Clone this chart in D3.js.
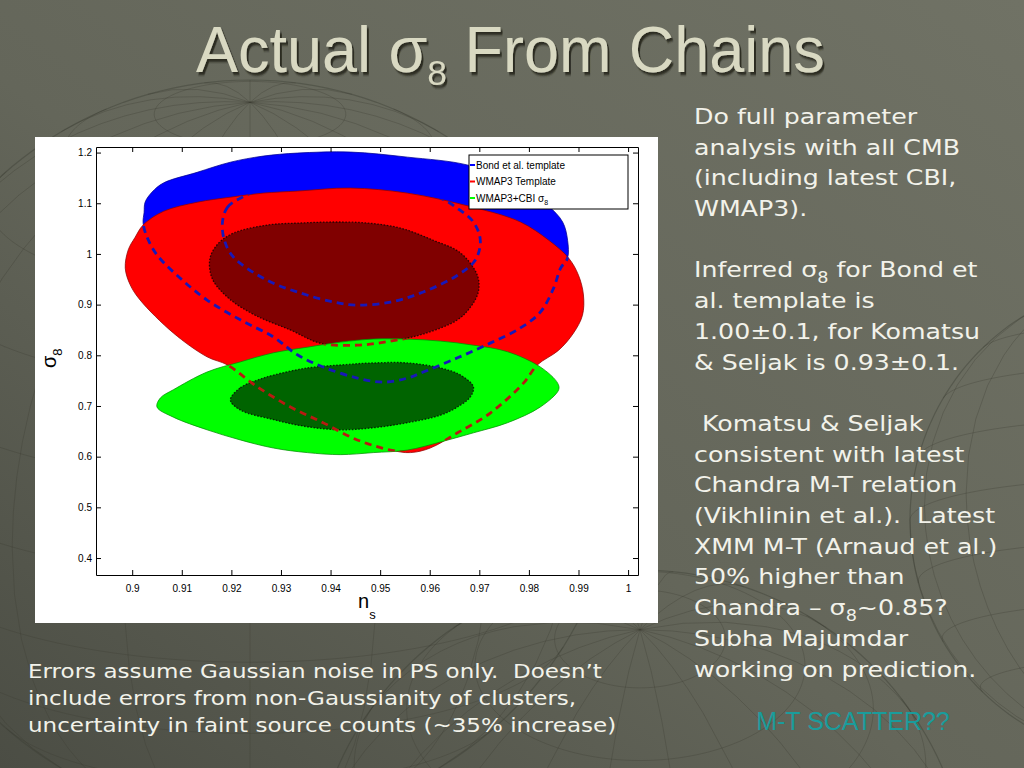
<!DOCTYPE html>
<html>
<head>
<meta charset="utf-8">
<script src="https://cdn.jsdelivr.net/npm/d3@7"></script>
<style>
  body { margin: 0; overflow: hidden; background: #5e6055; }
  svg { display: block; }
</style>
</head>
<body>
<script>
// ---- data: contour outlines, as [n_s, sigma_8] ----
const bondOuter = [
  [0.9022, 1.061], [0.9024, 1.082], [0.9026, 1.102], [0.9040, 1.122], [0.9063, 1.140],
  [0.9131, 1.161], [0.9198, 1.181], [0.9264, 1.193], [0.9333, 1.199], [0.9440, 1.201],
  [0.9555, 1.191], [0.9678, 1.175], [0.9783, 1.136], [0.9838, 1.096], [0.9868, 1.063],
  [0.9878, 1.027], [0.9878, 0.992], [0.9864, 0.972], [0.9850, 0.933], [0.9823, 0.885],
  [0.9783, 0.854], [0.9722, 0.824], [0.9656, 0.795], [0.9587, 0.767], [0.9555, 0.755],
  [0.9507, 0.747], [0.9454, 0.755], [0.9385, 0.777], [0.9333, 0.801], [0.9285, 0.836],
  [0.9218, 0.870], [0.9151, 0.909], [0.9097, 0.952], [0.9050, 0.998], [0.9030, 1.033]
];
const bondInner = [
  [0.9182, 1.063], [0.9192, 1.092], [0.9218, 1.110], [0.9252, 1.124], [0.9339, 1.134],
  [0.9440, 1.136], [0.9541, 1.130], [0.9622, 1.110], [0.9656, 1.090], [0.9688, 1.063],
  [0.9702, 1.027], [0.9692, 0.988], [0.9656, 0.958], [0.9587, 0.925], [0.9521, 0.905],
  [0.9454, 0.899], [0.9406, 0.905], [0.9339, 0.923], [0.9272, 0.948], [0.9204, 0.994],
  [0.9186, 1.027]
];
const wmapOuter = [
  [0.8986, 0.972], [0.8992, 1.008], [0.9006, 1.033], [0.9022, 1.057], [0.9063, 1.084],
  [0.9131, 1.102], [0.9198, 1.112], [0.9264, 1.120], [0.9333, 1.124], [0.9440, 1.130],
  [0.9555, 1.120], [0.9688, 1.092], [0.9783, 1.063], [0.9840, 1.027], [0.9880, 0.992],
  [0.9900, 0.958], [0.9910, 0.919], [0.9908, 0.879], [0.9890, 0.844], [0.9860, 0.810],
  [0.9817, 0.781], [0.9789, 0.745], [0.9722, 0.686], [0.9656, 0.647], [0.9601, 0.617],
  [0.9561, 0.608], [0.9521, 0.613], [0.9454, 0.633], [0.9385, 0.667], [0.9319, 0.698],
  [0.9252, 0.738], [0.9192, 0.781], [0.9151, 0.797], [0.9083, 0.844], [0.9016, 0.909],
  [0.8996, 0.939]
];
const wmapInner = [
  [0.9157, 0.992], [0.9174, 1.021], [0.9204, 1.041], [0.9272, 1.057], [0.9339, 1.061],
  [0.9406, 1.063], [0.9474, 1.061], [0.9541, 1.051], [0.9607, 1.027], [0.9662, 1.002],
  [0.9696, 0.958], [0.9698, 0.925], [0.9682, 0.895], [0.9656, 0.870], [0.9587, 0.842],
  [0.9521, 0.828], [0.9454, 0.820], [0.9379, 0.824], [0.9319, 0.850], [0.9248, 0.879],
  [0.9194, 0.913], [0.9161, 0.952]
];
const cbiOuter = [
  [0.9050, 0.698], [0.9057, 0.716], [0.9083, 0.732], [0.9151, 0.767], [0.9218, 0.787],
  [0.9285, 0.805], [0.9353, 0.816], [0.9420, 0.826], [0.9486, 0.832], [0.9555, 0.832],
  [0.9622, 0.828], [0.9688, 0.820], [0.9757, 0.807], [0.9823, 0.777], [0.9858, 0.745],
  [0.9860, 0.732], [0.9823, 0.698], [0.9757, 0.667], [0.9688, 0.647], [0.9622, 0.629],
  [0.9555, 0.613], [0.9486, 0.608], [0.9420, 0.604], [0.9353, 0.608], [0.9285, 0.617],
  [0.9218, 0.633], [0.9151, 0.653], [0.9083, 0.678]
];
const cbiInner = [
  [0.9198, 0.712], [0.9218, 0.736], [0.9252, 0.751], [0.9285, 0.761], [0.9353, 0.775],
  [0.9420, 0.781], [0.9486, 0.785], [0.9555, 0.785], [0.9622, 0.775], [0.9662, 0.761],
  [0.9688, 0.738], [0.9682, 0.718], [0.9656, 0.698], [0.9622, 0.682], [0.9555, 0.667],
  [0.9486, 0.657], [0.9420, 0.653], [0.9353, 0.659], [0.9285, 0.673], [0.9218, 0.692]
];

const nsTicks = [0.9, 0.91, 0.92, 0.93, 0.94, 0.95, 0.96, 0.97, 0.98, 0.99, 1.0];
const nsLabels = ['0.9', '0.91', '0.92', '0.93', '0.94', '0.95', '0.96', '0.97', '0.98', '0.99', '1'];
const s8Ticks = [0.4, 0.5, 0.6, 0.7, 0.8, 0.9, 1.0, 1.1, 1.2];
const s8Labels = ['0.4', '0.5', '0.6', '0.7', '0.8', '0.9', '1', '1.1', '1.2'];
const legendNames = ['Bond et al. template', 'WMAP3 Template', 'WMAP3+CBI σ_8'];
const legendColors = ['#0000ff', '#ff0000', '#00ff00'];

const sideText = [
  'Do full parameter', 'analysis with all CMB', '(including latest CBI,', 'WMAP3).', '',
  'Inferred σ_8 for Bond et', 'al. template is', '1.00±0.1, for Komatsu', '& Seljak is 0.93±0.1.', '',
  ' Komatsu & Seljak', 'consistent with latest', 'Chandra M-T relation', '(Vikhlinin et al.).  Latest',
  'XMM M-T (Arnaud et al.)', '50% higher than', 'Chandra – σ_8~0.85?', 'Subha Majumdar',
  'working on prediction.'
];
const footText = [
  'Errors assume Gaussian noise in PS only.  Doesn’t',
  'include errors from non-Gaussianity of clusters,',
  'uncertainty in faint source counts (~35% increase)'
];

const W = 1024, H = 768;
const svg = d3.select('body').append('svg').attr('width', W).attr('height', H);
const defs = svg.append('defs');

// background
const bg = defs.append('linearGradient').attr('id', 'bg')
  .attr('x1', '100%').attr('y1', '0%').attr('x2', '0%').attr('y2', '100%');
bg.append('stop').attr('offset', '0%').attr('stop-color', '#707265');
bg.append('stop').attr('offset', '55%').attr('stop-color', '#64665a');
bg.append('stop').attr('offset', '100%').attr('stop-color', '#4b4d44');
svg.append('rect').attr('width', W).attr('height', H).attr('fill', 'url(#bg)');

// faint globe meshes in the backdrop
[[250, 450, 370, [20, -20, 0]], [640, 900, 330, [-30, -35, 0]], [1150, 520, 240, [10, 10, 0]]].forEach(g => {
  const proj = d3.geoOrthographic().translate([g[0], g[1]]).scale(g[2]).rotate(g[3]);
  const gp = d3.geoPath(proj);
  svg.append('path').datum(d3.geoGraticule().step([20, 15])())
    .attr('d', gp).attr('fill', 'none')
    .attr('stroke', '#3a3c33').attr('stroke-opacity', 0.3).attr('stroke-width', 1);
  svg.append('path').datum({type: 'Sphere'})
    .attr('d', gp).attr('fill', 'none')
    .attr('stroke', '#3a3c33').attr('stroke-opacity', 0.4).attr('stroke-width', 1.2);
});

// title with drop shadow
const shadow = defs.append('filter').attr('id', 'shadow')
  .attr('x', '-5%').attr('y', '-20%').attr('width', '115%').attr('height', '150%');
shadow.append('feDropShadow').attr('dx', 2).attr('dy', 3).attr('stdDeviation', 0.8)
  .attr('flood-color', '#25261f').attr('flood-opacity', 0.95);

const t = svg.append('text')
  .attr('font-family', '"Liberation Sans Narrow", "Arial Narrow", "Liberation Sans", sans-serif')
  .attr('font-size', 64).attr('fill', '#d9d9c2').attr('filter', 'url(#shadow)');
t.append('tspan').text('Actual σ');
t.append('tspan').attr('font-size', 36).attr('dy', 13).text('8');
t.append('tspan').attr('dy', -13).text(' From Chains');
const tw = t.node().getComputedTextLength();
t.attr('transform', `translate(196,72) scale(${629 / tw},1)`);

// rich text helper: "_8" becomes a subscript 8
function rich(sel, str, subSize, shift) {
  const parts = str.split('_8');
  sel.append('tspan').text(parts[0]);
  for (let i = 1; i < parts.length; i++) {
    sel.append('tspan').attr('font-size', subSize).attr('dy', shift).text('8');
    sel.append('tspan').attr('dy', -shift).text(parts[i]);
  }
}

// right hand column (Verdana-wide, so stretch DejaVu a little)
svg.append('g').attr('transform', 'translate(694,0) scale(1.175,1)')
  .selectAll('text').data(sideText).join('text')
  .attr('x', 0).attr('y', (d, i) => 124 + i * 30.7)
  .attr('font-family', '"DejaVu Sans", Verdana, sans-serif')
  .attr('font-size', 21.5).attr('fill', '#f2f2ea')
  .style('white-space', 'pre')
  .each(function(d) { rich(d3.select(this), d, 15, 6); });

svg.append('text').attr('x', 853).attr('y', 730).attr('text-anchor', 'middle')
  .attr('font-family', '"Liberation Sans", Arial, sans-serif')
  .attr('font-size', 25).attr('fill', '#1a9c9c').text('M-T SCATTER??');

svg.append('g').attr('transform', 'translate(28,0) scale(1.175,1)')
  .selectAll('text').data(footText).join('text')
  .attr('x', 0).attr('y', (d, i) => 678 + i * 27)
  .attr('font-family', '"DejaVu Sans", Verdana, sans-serif')
  .attr('font-size', 19.6).attr('fill', '#f2f2ea')
  .style('white-space', 'pre')
  .text(d => d);

// ---- chart ----
svg.append('rect').attr('x', 35).attr('y', 137).attr('width', 623).attr('height', 486).attr('fill', '#ffffff');

const x = d3.scaleLinear().domain([0.8927, 1.002]).range([96, 638]);
const y = d3.scaleLinear().domain([0.3665, 1.211]).range([575, 147]);

const line = d3.line().x(d => x(d[0])).y(d => y(d[1])).curve(d3.curveCatmullRomClosed.alpha(0.5));

defs.append('clipPath').attr('id', 'plotArea').append('rect')
  .attr('x', x.range()[0]).attr('y', y.range()[1])
  .attr('width', x.range()[1] - x.range()[0]).attr('height', y.range()[0] - y.range()[1]);
defs.append('clipPath').attr('id', 'underRG').selectAll('path')
  .data([wmapOuter, cbiOuter]).join('path').attr('d', line);
defs.append('clipPath').attr('id', 'underG').append('path').attr('d', line(cbiOuter));

const plot = svg.append('g').attr('clip-path', 'url(#plotArea)');

const fills = [
  {pts: bondOuter, fill: '#0000ff', dotted: false},
  {pts: wmapOuter, fill: '#ff0000', dotted: false},
  {pts: wmapInner, fill: '#800000', dotted: true},
  {pts: cbiOuter, fill: '#00ff00', dotted: false},
  {pts: cbiInner, fill: '#006400', dotted: true}
];
plot.selectAll('path.fill').data(fills).join('path')
  .attr('class', 'fill')
  .attr('d', d => line(d.pts))
  .attr('fill', d => d.fill)
  .attr('stroke', d => d.dotted ? '#000' : d3.color(d.fill).darker(1.6))
  .attr('stroke-width', d => d.dotted ? 1.3 : 1)
  .attr('stroke-dasharray', d => d.dotted ? '1.6 1.6' : null)
  .attr('stroke-opacity', 0.75);

// hidden contour boundaries, drawn as dashes where covered
plot.append('g').attr('clip-path', 'url(#underRG)')
  .selectAll('path').data([bondOuter, bondInner]).join('path')
  .attr('d', line).attr('fill', 'none')
  .attr('stroke', '#1818b8').attr('stroke-width', 2.8).attr('stroke-dasharray', '7 5');
plot.append('g').attr('clip-path', 'url(#underG)')
  .selectAll('path').data([wmapOuter, wmapInner]).join('path')
  .attr('d', line).attr('fill', 'none')
  .attr('stroke', '#b81a12').attr('stroke-width', 2.8).attr('stroke-dasharray', '7 5');

// axes, MATLAB style ticks pointing inward
const tickFont = '"Liberation Sans", Arial, sans-serif';
function style(g) {
  g.selectAll('.domain').attr('stroke', '#000');
  g.selectAll('.tick line').attr('stroke', '#000');
  g.selectAll('.tick text').attr('fill', '#000').attr('font-size', 10).attr('font-family', tickFont);
}
svg.append('g').attr('transform', `translate(0,${y.range()[0]})`)
  .call(d3.axisBottom(x).tickValues(nsTicks).tickFormat((d, i) => nsLabels[i])
    .tickSize(-5).tickSizeOuter(0).tickPadding(10)).call(style);
svg.append('g').attr('transform', `translate(0,${y.range()[1]})`)
  .call(d3.axisTop(x).tickValues(nsTicks).tickFormat('').tickSize(-5).tickSizeOuter(0)).call(style);
svg.append('g').attr('transform', `translate(${x.range()[0]},0)`)
  .call(d3.axisLeft(y).tickValues(s8Ticks).tickFormat((d, i) => s8Labels[i])
    .tickSize(-5).tickSizeOuter(0).tickPadding(4)).call(style);
svg.append('g').attr('transform', `translate(${x.range()[1]},0)`)
  .call(d3.axisRight(y).tickValues(s8Ticks).tickFormat('').tickSize(-5).tickSizeOuter(0)).call(style);

// axis titles
const xt = svg.append('text').attr('x', 358).attr('y', 608)
  .attr('font-family', tickFont).attr('font-size', 20).attr('fill', '#000');
xt.append('tspan').text('n');
xt.append('tspan').attr('font-size', 13).attr('dy', 11).text('s');

const yt = svg.append('text').attr('transform', 'translate(56,368) rotate(-90)')
  .attr('font-family', tickFont).attr('font-size', 20).attr('fill', '#000');
yt.append('tspan').text('σ');
yt.append('tspan').attr('font-size', 13).attr('dy', 6).text('8');

// legend
const lg = svg.append('g').attr('transform', 'translate(469,155)');
lg.append('rect').attr('width', 159).attr('height', 54).attr('fill', '#fff').attr('stroke', '#000').attr('stroke-width', 1);
const rows = lg.selectAll('g').data(legendNames).join('g')
  .attr('transform', (d, i) => `translate(0,${10 + i * 16.5})`);
rows.append('line').attr('x1', 1).attr('x2', 6).attr('y1', 0).attr('y2', 0)
  .attr('stroke', (d, i) => legendColors[i]).attr('stroke-width', 2);
rows.append('text').attr('x', 7).attr('y', 3.5)
  .attr('font-family', tickFont).attr('font-size', 10).attr('fill', '#000')
  .each(function(d) { rich(d3.select(this), d, 7, 3); });
</script>
</body>
</html>
